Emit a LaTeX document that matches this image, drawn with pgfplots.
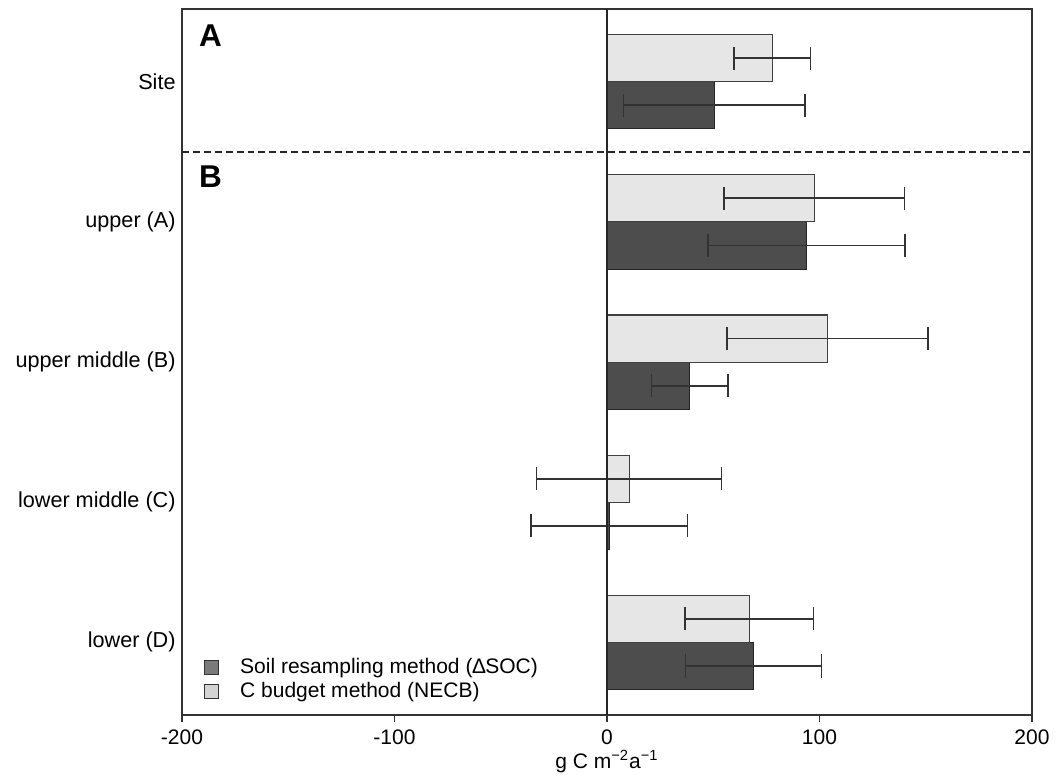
\documentclass[border=0pt]{standalone}
\usepackage{pgfplots}
\pgfplotsset{compat=1.18}
\usepackage{pgfplotstable}
\usepackage{fontspec}
\setmainfont{Liberation Sans}

\definecolor{darkbar}{HTML}{4D4D4D}
\definecolor{lightbar}{HTML}{E6E6E6}
\definecolor{darkleg}{HTML}{7A7A7A}
\definecolor{lightleg}{HTML}{D3D3D3}

% y: 4 = Site, 3..0 = upper (A) .. lower (D); yd / yl = centres of the dark / light bars
\pgfplotstableread{
y  yd     yl     dark  darkerr  light  lighterr
4  3.832  4.168  50.5  42.8     77.7   18.0
3  2.832  3.168  93.9  46.3     97.5   42.5
2  1.832  2.168  39.0  18.0     103.8  47.2
1  0.832  1.168  1.0   36.9     10.4   43.5
0 -0.168  0.168  68.9  32.0     66.9   30.3
}\sitedata

\begin{document}
\begin{tikzpicture}
\begin{axis}[
    scale only axis,
    width=404.5pt, height=336pt,
    xmin=-200, xmax=200,
    ymin=-0.52, ymax=4.52,
    xtick={-200,-100,0,100,200},
    ytick={0,1,2,3,4},
    yticklabels={lower (D), lower middle (C), upper middle (B), upper (A), Site},
    ytick style={draw=none},
    yticklabel style={xshift=3.8pt, font=\fontsize{10.3}{12}\selectfont},
    tick align=outside,
    xtick style={black!80, line width=0.6pt},
    major tick length=3.3pt,
    axis line style={black!80, line width=0.6pt},
    xtick pos=bottom,
    /pgf/number format/assume math mode=true,
    xticklabel style={font=\normalsize},
    xlabel={g C m\textsuperscript{−2}a\textsuperscript{−1}},
    xlabel style={yshift=4pt},
    bar width=0.336,
    legend cell align=left,
    legend style={draw=none, fill=none, at={(0.018,0.008)}, anchor=south west,
        font=\normalsize, row sep=-1.5pt},
]
\addplot[xbar, bar shift=-0.168, fill=darkbar, draw=black!85, line width=0.5pt,
    legend image code/.code={\draw[fill=darkleg, draw=black!80, line width=0.5pt] (0pt,-3.3pt) rectangle (6.7pt,3.3pt);}]
    table[x=dark, y=y] {\sitedata};
\addlegendentry{\hspace{8pt}Soil resampling method (∆SOC)}

\addplot[xbar, bar shift=0.168, fill=lightbar, draw=black!75, line width=0.5pt,
    legend image code/.code={\draw[fill=lightleg, draw=black!80, line width=0.5pt] (0pt,-3.3pt) rectangle (6.7pt,3.3pt);}]
    table[x=light, y=y] {\sitedata};
\addlegendentry{\hspace{8pt}C budget method (NECB)}

% error bars
\addplot[forget plot, draw=none, mark=none,
    error bars/.cd, x dir=both, x explicit,
    error bar style={draw=black!80, line width=0.9pt},
    error mark options={line width=0.8pt, draw=black!80, mark size=5.6pt, rotate=90}]
    table[x=dark, y=yd, x error=darkerr] {\sitedata};
\addplot[forget plot, draw=none, mark=none,
    error bars/.cd, x dir=both, x explicit,
    error bar style={draw=black!80, line width=0.9pt},
    error mark options={line width=0.8pt, draw=black!80, mark size=5.6pt, rotate=90}]
    table[x=light, y=yl, x error=lighterr] {\sitedata};

% zero line and separator between panels A and B
\addplot[forget plot, black!85, line width=0.6pt] coordinates {(0,-0.52) (0,4.52)};
\addplot[forget plot, black!85, line width=0.6pt, dash pattern=on 3.3pt off 1.9pt] coordinates {(-200,3.5) (200,3.5)};

\node[font=\fontsize{15}{15}\selectfont\bfseries] at (axis cs:-186.6,4.327) {A};
\node[font=\fontsize{15}{15}\selectfont\bfseries] at (axis cs:-186.6,3.327) {B};
\end{axis}
\path (current axis.south west) ++(-86.6pt,-32.4pt);
\path (current axis.north east) ++(11.9pt,4.3pt);
\end{tikzpicture}
\end{document}
